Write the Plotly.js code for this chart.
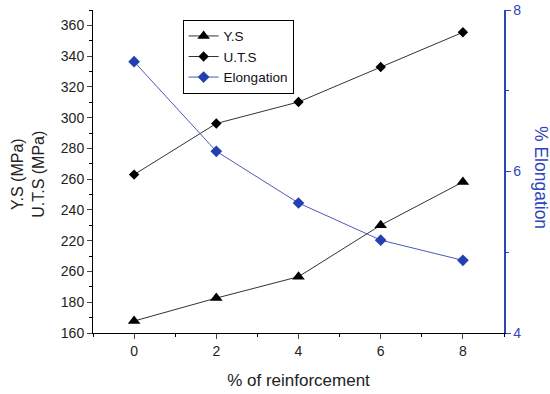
<!DOCTYPE html>
<html><head><meta charset="utf-8">
<script src="https://cdn.plot.ly/plotly-3.0.1.min.js"></script>
<style>html,body{margin:0;padding:0;background:#fff}#c{width:550px;height:394px}</style>
</head><body><div id="c"></div>
<script>
const reinforcement = [0, 2, 4, 6, 8];
const ys = [167.8, 182.7, 196.6, 230.1, 258.2];
const uts = [263, 296.2, 310.2, 332.9, 355.5];
const elongation = [7.36, 6.25, 5.61, 5.15, 4.90];
const leftTickVals = [160, 180, 200, 220, 240, 260, 280, 300, 320, 340, 360];
const leftTickText = ['160', '180', '260', '220', '240', '260', '280', '300', '320', '340', '360'];
const rightTickVals = [4, 6, 8];
const xTickVals = [0, 2, 4, 6, 8];

const blue = '#2d45b8';
const font = 'Liberation Sans, Arial, sans-serif';

const traces = [
  {x: reinforcement, y: ys, name: 'Y.S', mode: 'lines+markers',
   line: {color: '#333', width: 1}, marker: {symbol: 'triangle-up', size: 11, color: '#000'}},
  {x: reinforcement, y: uts, name: 'U.T.S', mode: 'lines+markers',
   line: {color: '#333', width: 1}, marker: {symbol: 'diamond', size: 8, color: '#000'}},
  {x: reinforcement, y: elongation, name: 'Elongation', mode: 'lines+markers', yaxis: 'y2',
   line: {color: '#4a5bb5', width: 1}, marker: {symbol: 'diamond', size: 9, color: '#2340b0'}}
];

const layout = {
  width: 550, height: 394,
  margin: {l: 93, r: 46, t: 10, b: 61},
  paper_bgcolor: '#fff', plot_bgcolor: '#fff',
  font: {family: font, size: 14, color: '#222'},
  showlegend: true,
  legend: {x: 0.218, y: 0.97, xanchor: 'left', yanchor: 'top',
           bordercolor: '#000', borderwidth: 1, bgcolor: '#fff',
           font: {size: 13.5, color: '#111'}, tracegroupgap: 0, itemwidth: 30},
  xaxis: {range: [-1, 9], tickvals: xTickVals, ticks: 'outside', ticklen: 5,
          showline: true, linecolor: '#000', linewidth: 1, zeroline: false, showgrid: false,
          mirror: false, minor: {dtick: 1, ticks: 'outside', ticklen: 3, tickcolor: '#000'},
          tickfont: {size: 14, color: '#222'},
          title: {text: '% of reinforcement', font: {size: 17, color: '#222'}, standoff: 16}},
  xaxis2: {overlaying: 'x', side: 'top', range: [-1, 9], showline: true, linecolor: '#000',
           showticklabels: false, ticks: '', showgrid: false, zeroline: false},
  yaxis: {range: [160, 370], tickvals: leftTickVals, ticktext: leftTickText,
          ticks: 'outside', ticklen: 5, showline: true, linecolor: '#000', linewidth: 1,
          zeroline: false, showgrid: false,
          minor: {dtick: 10, tick0: 160, ticks: 'outside', ticklen: 3, tickcolor: '#000'},
          tickfont: {size: 14, color: '#222'}},
  yaxis2: {overlaying: 'y', side: 'right', range: [4, 8], tickvals: rightTickVals,
           ticks: 'outside', ticklen: 5, showline: true, linecolor: blue, linewidth: 1.5,
           tickcolor: blue, zeroline: false, showgrid: false,
           minor: {dtick: 1, ticks: 'outside', ticklen: 3, tickcolor: blue},
           tickfont: {size: 14, color: blue}},
  annotations: [
    {text: 'Y.S (MPa)<br>U.T.S (MPa)', xref: 'paper', yref: 'paper', x: -0.158, y: 0.49,
     xanchor: 'center', yanchor: 'middle', textangle: -90, showarrow: false,
     font: {size: 16, color: '#222'}},
    {text: '% Elongation', xref: 'paper', yref: 'paper', x: 1.09, y: 0.48,
     xanchor: 'center', yanchor: 'middle', textangle: 90, showarrow: false,
     font: {size: 17.5, color: blue}}]
};

Plotly.newPlot('c', traces, layout, {displayModeBar: false, staticPlot: true});
</script></body></html>
